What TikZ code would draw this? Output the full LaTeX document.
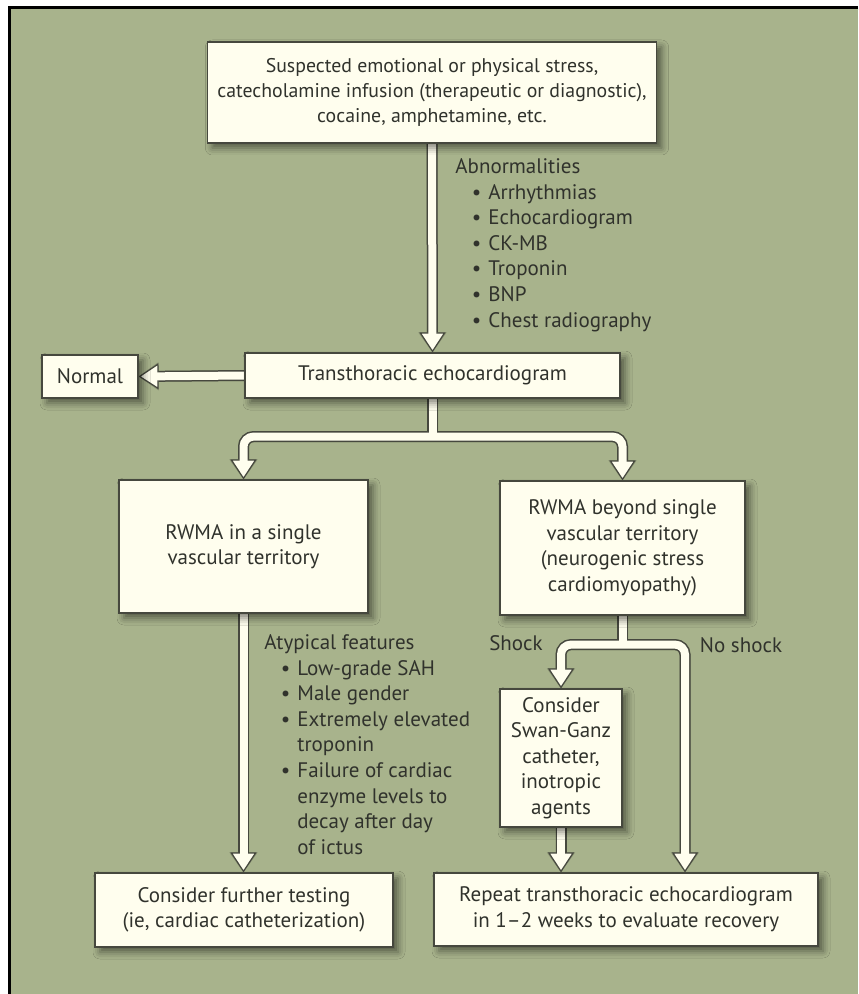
\documentclass[tikz,border=0pt]{standalone}
\usepackage{fontspec}
\setmainfont{PT Sans}
\usetikzlibrary{arrows.meta,shadows.blur}

\definecolor{panel}{RGB}{168,179,140}
\definecolor{cream}{RGB}{255,254,238}
\definecolor{edge}{RGB}{70,72,62}
\definecolor{ink}{RGB}{48,50,44}

\pgfdeclarelayer{background}
\pgfsetlayers{background,main}

% bullet and hanging indent for the two lists
\newcommand{\itm}{\makebox[16.5pt][r]{\textbullet\hspace{3.5pt}}}
\newcommand{\cnt}{\hspace*{16.5pt}}

% all the fat arrows, drawn once per pass
\newcommand{\flowpaths}{%
\draw[arrowhead] (top.south) -- (trans.north);
\draw[arrowhead] (trans.west) -- (normal.east);
\draw (trans.south) -- (fork1);
\draw[twoheads,rounded corners=5pt] (single.north) |- (fork1) -| (beyond.north);
\draw[arrowhead] (single.south) -- (single.south |- further.north);
\draw (beyond.south) -- (fork2);
\draw[twoheads,rounded corners=5pt] (swan.north) |- (fork2) -| (noshock);
\draw[arrowhead] (swan.south) -- (swan.south |- repeat.north);
}

\begin{document}
\begin{tikzpicture}[x=0.5pt,y=-0.5pt,
every node/.style={font=\fontsize{10.5}{12.8}\selectfont,text=ink},
box/.style={draw=edge,line width=0.6pt,fill=cream,align=center,inner sep=0pt,
  blur shadow={shadow xshift=2.5pt,shadow yshift=-2.5pt,shadow blur radius=3.5pt,shadow opacity=50}},
outer/.style={line width=5.5pt,draw=edge,
  arrowhead/.style={-{Triangle[width=13pt,length=10pt,line width=0.6pt,color=edge,fill=cream]}},
  twoheads/.style={{Triangle[width=13pt,length=10pt,line width=0.6pt,color=edge,fill=cream]}-{Triangle[width=13pt,length=10pt,line width=0.6pt,color=edge,fill=cream]}}},
inner/.style={line width=4pt,draw=cream,
  arrowhead/.style={shorten >=9pt},
  twoheads/.style={shorten >=9pt,shorten <=9pt}},
shade/.style={outer,draw=black,xshift=2pt,yshift=-2pt,
  arrowhead/.style={-{Triangle[width=14pt,length=10pt,line width=0.6pt,color=black,fill=black]}},
  twoheads/.style={{Triangle[width=14pt,length=10pt,line width=0.6pt,color=black,fill=black]}-{Triangle[width=14pt,length=10pt,line width=0.6pt,color=black,fill=black]}}}]
\useasboundingbox (0,0) rectangle (858,994);

\node[box,minimum width=198pt,minimum height=50.5pt,inner xsep=5pt,
  font=\fontsize{9.9}{12.6}\selectfont] (top) at (432,92.5)
{Suspected emotional or physical stress,\\catecholamine infusion (therapeutic or diagnostic),\\cocaine, amphetamine, etc.};
\node[box,minimum width=187.5pt,minimum height=22.5pt] (trans) at (432.5,375.5)
{Transthoracic echocardiogram};
\node[box,minimum width=48pt,minimum height=21.5pt] (normal) at (90,376.5) {Normal};
\node[box,minimum width=124.5pt,minimum height=66.5pt] (single) at (243.5,546.5)
{RWMA in a single\\vascular territory};
\node[box,minimum width=122.5pt,minimum height=67pt] (beyond) at (622.5,548)
{RWMA beyond single\\vascular territory\\(neurogenic stress\\cardiomyopathy)};
\node[box,minimum width=61pt,minimum height=69pt] (swan) at (561,758)
{Consider\\Swan-Ganz\\catheter,\\inotropic\\agents};
\node[box,minimum width=149pt,minimum height=37pt] (further) at (244,910)
{Consider further testing\\(ie, cardiac catheterization)};
\node[box,minimum width=192pt,minimum height=36.5pt] (repeat) at (626,909.5)
{Repeat transthoracic echocardiogram\\in 1--2 weeks to evaluate recovery};

\node[anchor=west,align=left,inner sep=0pt] (abnormal) at (455,245)
{Abnormalities\\\itm Arrhythmias\\\itm Echocardiogram\\\itm CK-MB\\\itm Troponin\\\itm BNP\\\itm Chest radiography};
\node[anchor=west,align=left,inner sep=0pt] (atypical) at (264,744.5)
{Atypical features\\\itm Low-grade SAH\\\itm Male gender\\\itm Extremely elevated\\\cnt troponin\\\itm Failure of cardiac\\\cnt enzyme levels to\\\cnt decay after day\\\cnt of ictus};
\node (shock) at (516,643) {Shock};
\node (noshocktext) at (741,645) {No shock};

\path (trans.south) ++(0,38) coordinate (fork1);
\path (beyond.south) ++(0,29) coordinate (fork2);
\coordinate (noshock) at (repeat.north -| 685,0);

\begin{pgfonlayer}{background}
\fill[white] (0,0) rectangle (858,994);
\fill[panel] (9,7) rectangle (858,994);
\draw[black,line width=1.5pt] (9.5,994) -- (9.5,7.5) -- (858,7.5);
% soft shadow under the arrows
\begin{scope}[transparency group,opacity=0.22]
\begin{scope}[shade]
\flowpaths
\end{scope}
\end{scope}
\begin{scope}[outer]
\flowpaths
\end{scope}
\begin{scope}[inner]
\flowpaths
\end{scope}
\end{pgfonlayer}
\end{tikzpicture}
\end{document}
